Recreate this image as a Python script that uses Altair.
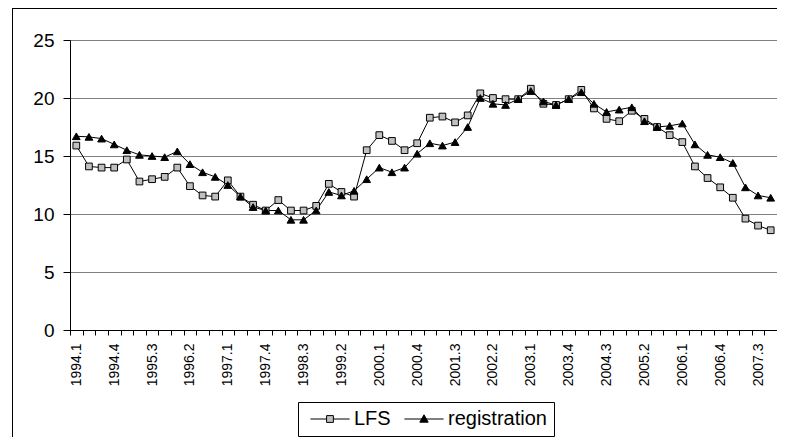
import altair as alt
import pandas as pd

quarters = [
    "1994.1", "1994.2", "1994.3", "1994.4", "1995.1", "1995.2", "1995.3", "1995.4",
    "1996.1", "1996.2", "1996.3", "1996.4", "1997.1", "1997.2", "1997.3", "1997.4",
    "1998.1", "1998.2", "1998.3", "1998.4", "1999.1", "1999.2", "1999.3", "1999.4",
    "2000.1", "2000.2", "2000.3", "2000.4", "2001.1", "2001.2", "2001.3", "2001.4",
    "2002.1", "2002.2", "2002.3", "2002.4", "2003.1", "2003.2", "2003.3", "2003.4",
    "2004.1", "2004.2", "2004.3", "2004.4", "2005.1", "2005.2", "2005.3", "2005.4",
    "2006.1", "2006.2", "2006.3", "2006.4", "2007.1", "2007.2", "2007.3", "2007.4",
]

lfs = [
    15.9, 14.1, 14.0, 14.0, 14.7, 12.8, 13.0, 13.2,
    14.0, 12.4, 11.6, 11.5, 12.9, 11.5, 10.8, 10.3,
    11.2, 10.3, 10.3, 10.7, 12.6, 11.9, 11.5, 15.5,
    16.8, 16.3, 15.5, 16.1, 18.3, 18.4, 17.9, 18.5,
    20.4, 20.0, 19.9, 19.9, 20.8, 19.5, 19.4, 19.9,
    20.7, 19.1, 18.2, 18.0, 18.9, 18.2, 17.5, 16.8,
    16.2, 14.1, 13.1, 12.3, 11.4, 9.6, 9.0, 8.6,
]

registration = [
    16.7, 16.65, 16.5, 16.0, 15.5, 15.1, 15.0, 14.9,
    15.4, 14.3, 13.6, 13.2, 12.5, 11.5, 10.6, 10.3,
    10.3, 9.5, 9.5, 10.3, 11.9, 11.6, 12.0, 13.0,
    14.0, 13.6, 14.0, 15.2, 16.1, 15.9, 16.2, 17.5,
    20.0, 19.5, 19.4, 19.9, 20.6, 19.7, 19.4, 19.9,
    20.5, 19.5, 18.8, 19.0, 19.2, 18.0, 17.5, 17.6,
    17.8, 16.0, 15.1, 14.9, 14.4, 12.3, 11.6, 11.4,
]

series_names = ["LFS", "registration"]
y_ticks = [0, 5, 10, 15, 20, 25]

rows = []
for q, a, b in zip(quarters, lfs, registration):
    rows.append({"quarter": q, "series": "LFS", "value": a})
    rows.append({"quarter": q, "series": "registration", "value": b})
df = pd.DataFrame(rows)

FONT = "Liberation Sans"
label_arr = "[" + ",".join("'" + q + "'" for q in quarters) + "]"
label_expr = "indexof(" + label_arr + ", datum.value) % 3 == 0 ? datum.value : ''"

x_enc = alt.X(
    "quarter:O",
    sort=quarters,
    scale=alt.Scale(type="band", domain=quarters, paddingInner=0, paddingOuter=0),
    axis=alt.Axis(
        title=None, tickBand="extent", labelExpr=label_expr, labelAngle=-90,
        labelFontSize=14, labelFont=FONT, labelColor="black", labelPadding=8,
        tickSize=5, tickColor="black", domainColor="black", labelOverlap=False,
        grid=False,
    ),
)
y_enc = alt.Y(
    "value:Q",
    scale=alt.Scale(domain=[0, 25], nice=False),
    axis=alt.Axis(
        values=y_ticks, title=None, grid=True, gridColor="#808080",
        tickSize=7, tickColor="black", domainColor="black",
        labelFontSize=19, labelFont=FONT, labelColor="black", labelPadding=9,
    ),
)

base = alt.Chart(df)

lines = base.mark_line(color="black", strokeWidth=1).encode(
    x=x_enc, y=y_enc, detail="series:N"
)

pts_lfs = base.transform_filter(alt.datum.series == "LFS").mark_point(
    shape="square", filled=True, fill="#C0C0C0", stroke="black",
    strokeWidth=1, size=45, opacity=1,
).encode(x=x_enc, y=y_enc)

pts_reg = base.transform_filter(alt.datum.series == "registration").mark_point(
    shape="triangle-up", filled=True, fill="black", stroke="black",
    strokeWidth=1, size=60, opacity=1,
).encode(x=x_enc, y=y_enc)

sq_path = "M-4.9,0H-0.85M0.85,0H4.9M-0.85,-0.85H0.85V0.85H-0.85Z"
tri_path = "M-4.9,0H4.9M0,-1.05L1.05,0.8H-1.05Z"

leg = alt.Legend(
    title=None, orient="none", legendX=228, legendY=362, direction="horizontal",
    strokeColor="black", fillColor="white", padding=7, cornerRadius=0,
    labelFontSize=20, labelFont=FONT, labelColor="black",
    symbolSize=64, symbolStrokeWidth=1,
    symbolOpacity=1, symbolOffset=15, labelOffset=14, columnPadding=8,
)

legend_layer = base.mark_point(
    filled=True, opacity=0, strokeWidth=1
).encode(
    x=x_enc, y=y_enc,
    shape=alt.Shape("series:N", scale=alt.Scale(domain=series_names, range=[sq_path, tri_path]), legend=leg),
    fill=alt.Fill("series:N", scale=alt.Scale(domain=series_names, range=["#C0C0C0", "black"]), legend=leg),
    stroke=alt.Stroke("series:N", scale=alt.Scale(domain=series_names, range=["black", "black"]), legend=leg),
)

frame_left = alt.Chart(df).mark_rule(color="black", strokeWidth=1).encode(
    x=alt.value(-57.5), y=alt.value(-31.5), y2=alt.value(397)
)
frame_top = alt.Chart(df).mark_rule(color="black", strokeWidth=1).encode(
    x=alt.value(-57.5), x2=alt.value(707), y=alt.value(-31.5)
)

chart = alt.layer(
    frame_left, frame_top, lines, pts_lfs, pts_reg, legend_layer
).properties(
    width=707, height=290,
    autosize=alt.AutoSizeParams(type="none"),
    padding={"left": 62, "top": 32, "right": 0, "bottom": 107},
).configure_view(stroke="#808080", strokeWidth=1).configure(background="white")

chart.save("out.html", embed_options={"renderer": "svg", "actions": False})
